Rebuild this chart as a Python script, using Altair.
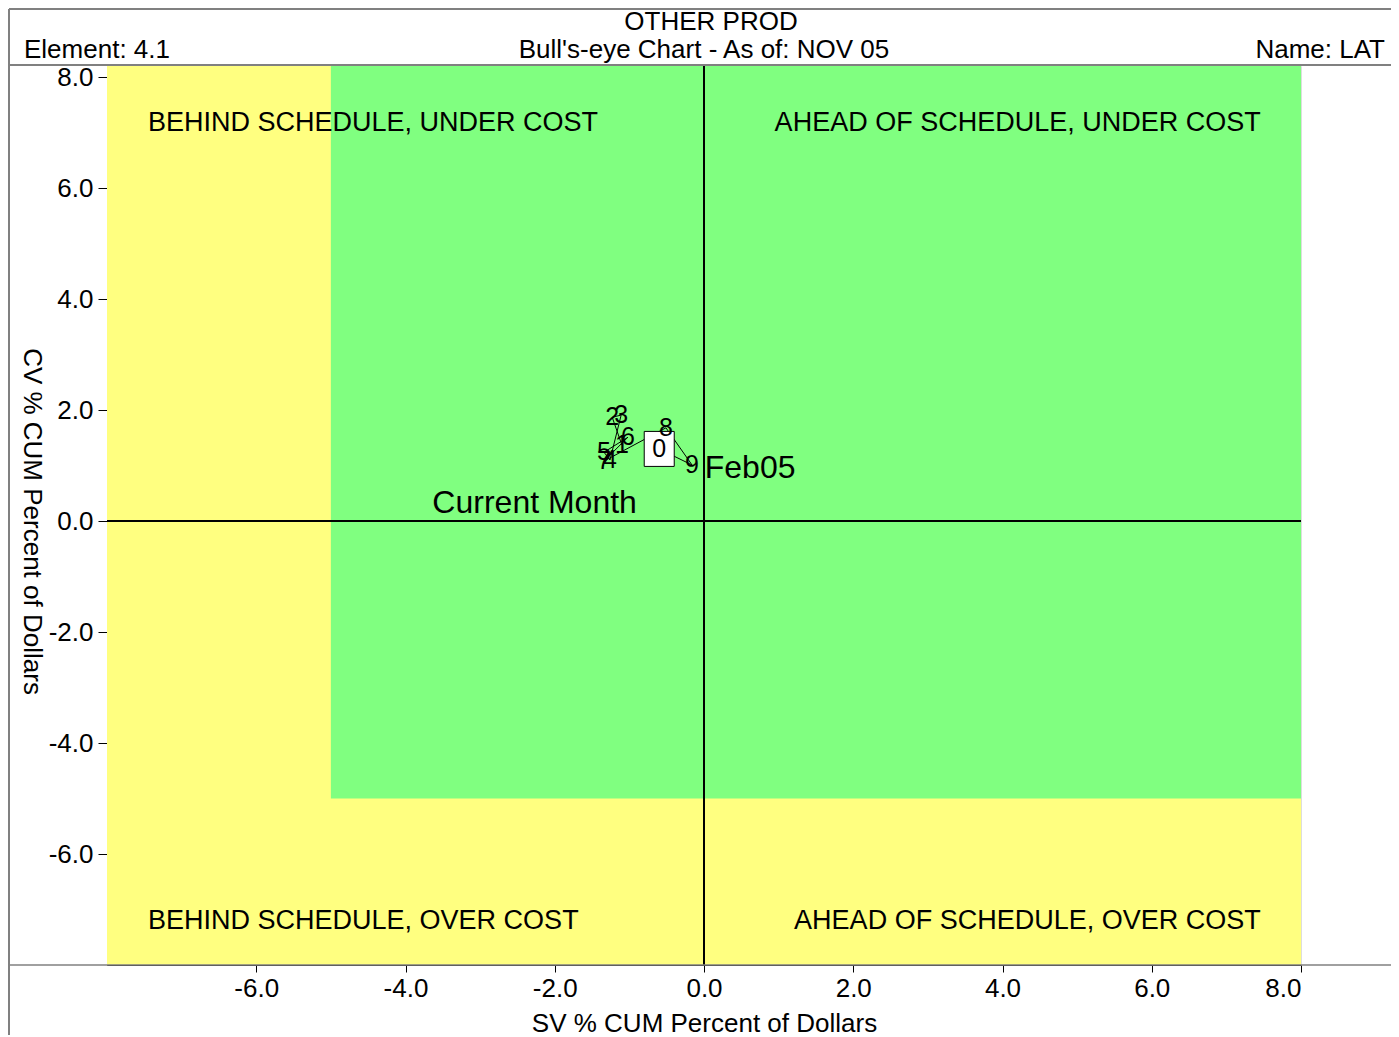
import altair as alt
import pandas as pd

# ---- data ----
months = ["1", "2", "3", "4", "5", "6", "7", "8", "9", "0"]
sv_pct = [-1.10, -1.23, -1.11, -1.26, -1.34, -1.02, -1.34, -0.51, -0.16, -0.60]
cv_pct = [1.37, 1.87, 1.91, 1.10, 1.24, 1.51, 1.08, 1.68, 1.01, 1.30]
current_month = "0"

zone_x1 = [-8.0, -5.0]
zone_x2 = [8.0, 8.0]
zone_y1 = [-8.0, -5.0]
zone_y2 = [8.2, 8.2]
zone_color = ["#FFFF80", "#80FF80"]

quad_left_text = ["BEHIND SCHEDULE, UNDER COST", "BEHIND SCHEDULE, OVER COST"]
quad_left_x = [-7.45, -7.45]
quad_left_y = [7.17, -7.21]
quad_right_text = ["AHEAD OF SCHEDULE, UNDER COST", "AHEAD OF SCHEDULE, OVER COST"]
quad_right_x = [7.46, 7.46]
quad_right_y = [7.17, -7.21]

ann_text = ["Current Month", "Feb05"]
ann_x = [-3.64, 0.01]
ann_y = [0.32, 0.95]

tick_values = [-6, -4, -2, 0, 2, 4, 6, 8]

FONT = "Liberation Sans"
W, H = 1194, 899

pts = pd.DataFrame({"sv": sv_pct, "cv": cv_pct, "m": months, "order": list(range(len(months)))})
zones = pd.DataFrame({"x1": zone_x1, "x2": zone_x2, "y1": zone_y1, "y2": zone_y2, "c": zone_color})
qleft = pd.DataFrame({"t": quad_left_text, "x": quad_left_x, "y": quad_left_y})
qright = pd.DataFrame({"t": quad_right_text, "x": quad_right_x, "y": quad_right_y})
ann = pd.DataFrame({"t": ann_text, "x": ann_x, "y": ann_y})

lab_expr = "(datum.value < 0 ? '-' : '') + format(abs(datum.value), '.1f')"
xscale = alt.Scale(domain=[-8, 8], nice=False, zero=False)
yscale = alt.Scale(domain=[-8, 8.2], nice=False, zero=False)

xaxis = alt.Axis(values=tick_values, labelExpr=lab_expr, title="SV % CUM Percent of Dollars",
                 grid=False, tickSize=7, tickColor="black", domainColor="black",
                 labelFontSize=26, labelFont=FONT, labelColor="black", labelPadding=3,
                 titleFontSize=26, titleFont=FONT, titleFontWeight="normal", titleColor="black",
                 titleX=597, titleY=58, titleBaseline="middle")
yaxis = alt.Axis(values=tick_values, labelExpr=lab_expr, title="CV % CUM Percent of Dollars",
                 grid=False, tickSize=9, tickColor="black", domainColor="black",
                 labelFontSize=26, labelFont=FONT, labelColor="black", labelPadding=5,
                 titleFontSize=26, titleFont=FONT, titleFontWeight="normal", titleColor="black",
                 titleAngle=90, titleX=-76, titleY=455, titleBaseline="middle", titleAlign="center")

zones_layer = alt.Chart(zones).mark_rect(strokeWidth=0).encode(
    x=alt.X("x1:Q", scale=xscale, axis=xaxis), x2="x2:Q",
    y=alt.Y("y1:Q", scale=yscale, axis=yaxis), y2="y2:Q",
    color=alt.Color("c:N", scale=None),
)

zero_v = alt.Chart(pts).mark_rule(color="black", strokeWidth=1).encode(x=alt.datum(0))
zero_h = alt.Chart(pts).mark_rule(color="black", strokeWidth=1).encode(y=alt.datum(0))

line = alt.Chart(pts).mark_line(color="black", strokeWidth=1).encode(
    x=alt.X("sv:Q", scale=xscale), y=alt.Y("cv:Q", scale=yscale), order="order:Q")

box_shape = "M-0.857,-1L0.857,-1L0.857,1L-0.857,1Z"
box = alt.Chart(pts).transform_filter(alt.datum.m == current_month).mark_point(
    shape=box_shape, size=1225, filled=True, fill="white", stroke="black", strokeWidth=1, opacity=1
).encode(x=alt.X("sv:Q", scale=xscale), y=alt.Y("cv:Q", scale=yscale))

labels = alt.Chart(pts).mark_text(fontSize=25, font=FONT, color="black", baseline="middle", align="center").encode(
    x=alt.X("sv:Q", scale=xscale), y=alt.Y("cv:Q", scale=yscale), text="m:N")

ql = alt.Chart(qleft).mark_text(fontSize=27, font=FONT, color="black", align="left", baseline="middle").encode(
    x=alt.X("x:Q", scale=xscale), y=alt.Y("y:Q", scale=yscale), text="t:N")
qr = alt.Chart(qright).mark_text(fontSize=27, font=FONT, color="black", align="right", baseline="middle").encode(
    x=alt.X("x:Q", scale=xscale), y=alt.Y("y:Q", scale=yscale), text="t:N")
an = alt.Chart(ann).mark_text(fontSize=32, font=FONT, color="black", align="left", baseline="middle").encode(
    x=alt.X("x:Q", scale=xscale), y=alt.Y("y:Q", scale=yscale), text="t:N")

# header texts and frame lines (decoration, pixel positions relative to plot origin)
hdr = pd.DataFrame({"a": [0]})
def htext(txt, x, y, align):
    return alt.Chart(hdr).mark_text(text=txt, fontSize=26, font=FONT, color="black", align=align,
                                    baseline="middle", clip=False).encode(x=alt.value(x), y=alt.value(y))

h1 = htext("OTHER PROD", 604, -44, "center")
h2 = htext("Bull's-eye Chart - As of: NOV 05", 597, -16, "center")
h3 = htext("Element: 4.1", -83, -16, "left")
h4 = htext("Name: LAT", 1278, -16, "right")

def hrule(x, x2, y, color="#808080", width=2):
    return alt.Chart(hdr).mark_rule(color=color, strokeWidth=width, clip=False).encode(
        x=alt.value(x), x2=alt.value(x2), y=alt.value(y))

def vrule(x, y, y2, color="#808080", width=2):
    return alt.Chart(hdr).mark_rule(color=color, strokeWidth=width, clip=False).encode(
        x=alt.value(x), y=alt.value(y), y2=alt.value(y2))

f1 = hrule(-98, 1292, -57)
f2 = hrule(-98, 1292, -1)
f3 = hrule(-98, 1292, 899, width=1.5)
f4 = vrule(-98, -57, 980)

chart = alt.layer(
    zones_layer, zero_v, zero_h, line, box, labels, ql, qr, an,
    h1, h2, h3, h4, f1, f2, f3, f4
).properties(
    width=W, height=H,
    autosize=alt.AutoSizeParams(type="none"),
    padding={"left": 99, "top": 58, "right": 90, "bottom": 70},
).configure_view(stroke="black", strokeWidth=1).configure(background="white")

chart.save("out.html", embed_options={"renderer": "svg", "actions": False})
